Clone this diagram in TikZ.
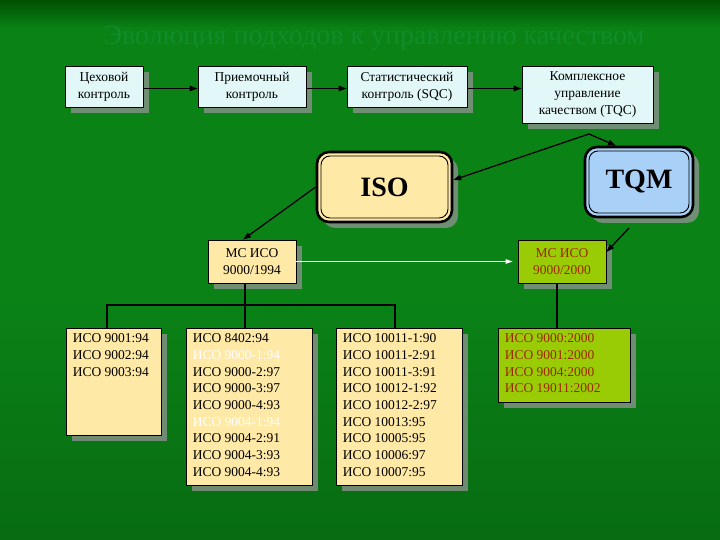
\documentclass[tikz,border=0pt]{standalone}
\usepackage{fontspec}
\setmainfont{Liberation Serif}
\usetikzlibrary{arrows.meta,shadows}
\definecolor{cyanbox}{HTML}{E2F8F8}
\definecolor{ylw}{HTML}{FFE9A6}
\definecolor{tqmblue}{HTML}{A9D1F7}
\definecolor{limebox}{HTML}{9ACC05}
\definecolor{redtxt}{HTML}{9C2A00}
\definecolor{bgtop}{HTML}{005000}
\definecolor{bgmid}{HTML}{0A8216}
\definecolor{bgbot}{HTML}{086C12}
\definecolor{titlecol}{HTML}{108C2A}
\begin{document}
\begin{tikzpicture}[x=1pt,y=-1pt,
  sh/.style={drop shadow={shadow xshift=6pt,shadow yshift=-6pt,fill=gray!85,opacity=0.75}},
  box/.style={draw=black,line width=0.8pt,inner sep=0pt,align=center,
    font=\fontsize{13.5}{16.7}\selectfont,sh},
  toprow/.style={box,fill=cyanbox},
  listbox/.style={draw=black,line width=0.8pt,inner sep=0pt,sh},
  listtext/.style={anchor=north west,align=left,inner sep=0pt,
    font=\fontsize{13.5}{16.7}\selectfont},
  bigouter/.style={draw=black,line width=2.6pt,rounded corners=12pt,inner sep=0pt,sh},
  biginner/.style={draw=black,line width=0.9pt,rounded corners=9pt,inner sep=0pt,
    font=\fontsize{28}{30}\selectfont\bfseries},
  arr/.style={line width=1.3pt,-{Triangle[length=8pt,width=5.5pt]}},
  warr/.style={draw=white,line width=0.9pt,-{Triangle[length=7pt,width=4.5pt]}},
  treeline/.style={line width=1.4pt,draw=black}
]
\useasboundingbox (0,0) rectangle (720,540);
\fill[bgmid] (0,0) rectangle (720,540);
\shade[top color=bgtop,bottom color=bgmid] (0,0) rectangle (720,28);
\shade[top color=bgmid,bottom color=bgbot] (0,300) rectangle (720,540);

% faint title
\node[font=\fontsize{28}{30}\selectfont,text=titlecol] (title) at (374,38)
  {Эволюция подходов к управлению качеством};

% top row
\node[toprow,minimum width=78,minimum height=41] (c1) at (104,86.5) {Цеховой\\контроль};
\node[toprow,minimum width=108,minimum height=41] (c2) at (252,86.5) {Приемочный\\контроль};
\node[toprow,minimum width=120,minimum height=41] (c3) at (407,86.5) {Статистический\\контроль (SQC)};
\node[toprow,minimum width=131,minimum height=57] (c4) at (587.5,94.5) {Комплексное\\управление\\качеством (TQC)};

\draw[arr] ([yshift=-2pt]c1.east) -- ([yshift=-2pt]c1.east -| c2.west);
\draw[arr] ([yshift=-2pt]c2.east) -- ([yshift=-2pt]c2.east -| c3.west);
\draw[arr] ([yshift=-2pt]c3.east) -- ([yshift=-2pt]c3.east -| c4.west);

% ISO and TQM
\node[bigouter,fill=ylw,minimum width=135,minimum height=70] (isoo) at (384.5,187) {};
\node[biginner,minimum width=127,minimum height=62] (iso) at (384.5,187) {ISO};
\node[bigouter,fill=tqmblue,minimum width=108,minimum height=70] (tqmo) at (639,182) {};
\node[biginner,minimum width=100,minimum height=62] (tqm) at (639,182) {TQM};

\coordinate (fork) at (589,134);
\draw[arr] (fork) -- ([yshift=7pt]isoo.east);
\draw[arr] (fork) -- ([xshift=-23pt]tqmo.north);

% MC ISO boxes
\node[box,fill=ylw,minimum width=88,minimum height=43] (m94) at (252,261.5) {МС ИСО\\9000/1994};
\node[box,fill=limebox,text=redtxt,minimum width=88,minimum height=43] (m00) at (562,261.5) {МС ИСО\\9000/2000};

\draw[arr] (isoo.west) -- ([xshift=-9pt]m94.north);
\coordinate (tqmlow) at (629,228);
\draw[arr] (tqmlow) -- ([yshift=9.5pt]m00.east);
\draw[warr,shorten >=5pt] (m94.east) -- (m00.west);

% list boxes
\node[listbox,fill=ylw,minimum width=95,minimum height=107] (b1) at (113.5,381.5) {};
\node[listbox,fill=ylw,minimum width=126,minimum height=157] (b2) at (249,406.5) {};
\node[listbox,fill=ylw,minimum width=126,minimum height=157] (b3) at (399,406.5) {};
\node[listbox,fill=limebox,minimum width=132,minimum height=74] (b4) at (564,365) {};

\node[listtext] (t1) at ([shift={(7pt,-6pt)}]b1.north west)
  {ИСО 9001:94\\ИСО 9002:94\\ИСО 9003:94};
\node[listtext] (t2) at ([shift={(7pt,-6pt)}]b2.north west)
  {ИСО 8402:94\\\textcolor{white}{ИСО 9000-1:94}\\ИСО 9000-2:97\\ИСО 9000-3:97\\ИСО 9000-4:93\\\textcolor{white}{ИСО 9004-1:94}\\ИСО 9004-2:91\\ИСО 9004-3:93\\ИСО 9004-4:93};
\node[listtext] (t3) at ([shift={(7pt,-6pt)}]b3.north west)
  {ИСО 10011-1:90\\ИСО 10011-2:91\\ИСО 10011-3:91\\ИСО 10012-1:92\\ИСО 10012-2:97\\ИСО 10013:95\\ИСО 10005:95\\ИСО 10006:97\\ИСО 10007:95};
\node[listtext,text=redtxt] (t4) at ([shift={(7pt,-6pt)}]b4.north west)
  {ИСО 9000:2000\\ИСО 9001:2000\\ИСО 9004:2000\\ИСО 19011:2002};

% tree connectors
\coordinate (j) at (245,305);
\coordinate (jl) at (107,305);
\coordinate (jr) at (395,305);
\draw[treeline] (m94.south -| j) -- (j) -- (b2.north -| j);
\draw[treeline] (b1.north -| jl) -- (jl) -- (jr) -- (b3.north -| jr);
\draw[treeline] ([xshift=-5pt]m00.south) -- ([xshift=-5pt]m00.south |- b4.north);
\end{tikzpicture}
\end{document}
